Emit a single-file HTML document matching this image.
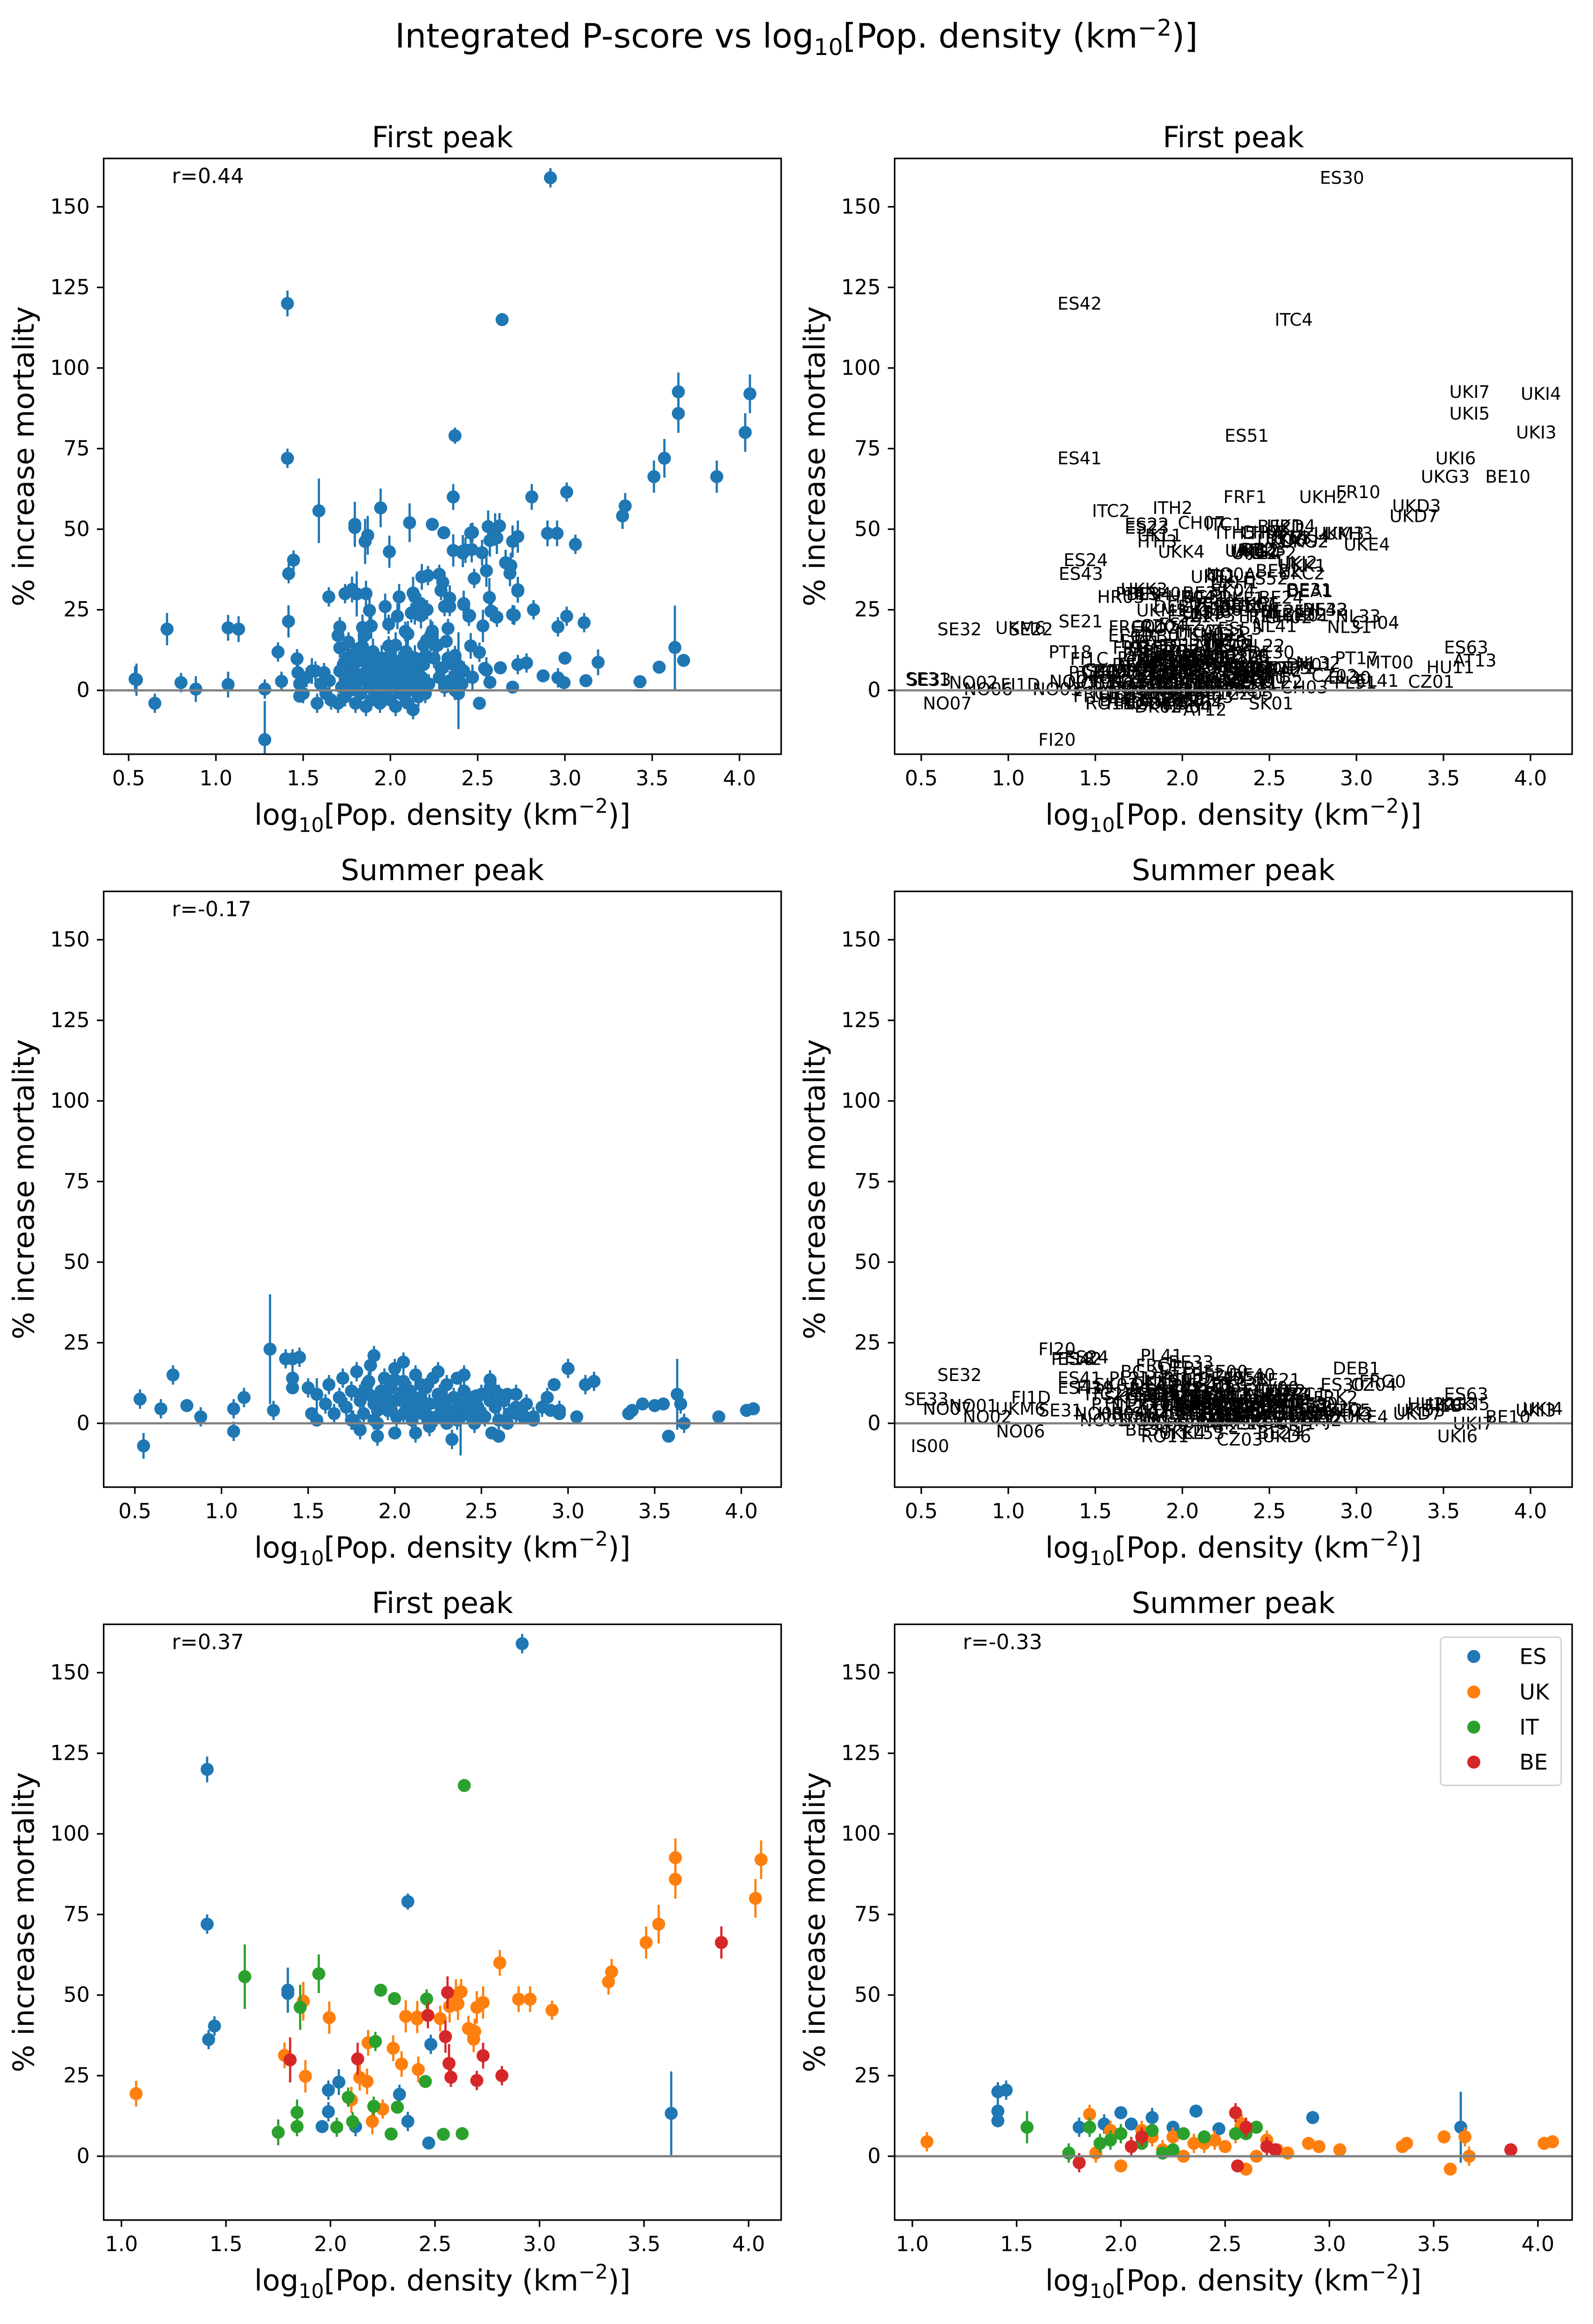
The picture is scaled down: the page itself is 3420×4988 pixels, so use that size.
<!DOCTYPE html>
<html><head><meta charset="utf-8"><title>Integrated P-score vs population density</title>
<style>html,body{margin:0;padding:0;background:#fff}svg{display:block}text{font-family:"DejaVu Sans","Liberation Sans",sans-serif;fill:#000}</style>
</head><body>
<svg id="fig" xmlns="http://www.w3.org/2000/svg" width="3420" height="4988" viewBox="0 0 1075.5 1568.5">
<rect x="0" y="0" width="1075.5" height="1568.5" fill="#fff"/>
<text x="537.7" y="32" font-size="22.7" text-anchor="middle">Integrated P-score vs log<tspan font-size="15.5" dy="5">10</tspan><tspan dy="-5">[Pop. density (km</tspan><tspan font-size="15.5" dy="-8">−2</tspan><tspan dy="8">)]</tspan></text>
</svg>
<script>
// ===== First peak: regions of the four highlighted countries =====
const fcX=[2.917,1.41,2.37,1.41,1.445,1.417,1.796,1.796,2.48,2.04,1.99,2.33,1.99,1.96,2.12,2.37,2.47,3.63,
1.07,1.78,1.87,1.994,1.88,2.10,2.14,2.175,2.18,2.20,2.25,2.30,2.34,2.36,2.415,2.415,2.42,2.525,2.57,2.60,2.625,2.61,2.66,2.69,2.685,2.70,2.73,2.81,2.90,2.955,3.06,3.33,3.345,3.51,3.57,3.65,3.65,4.033,4.06,
2.64,1.59,1.944,1.855,2.24,2.306,2.46,2.215,2.454,2.085,2.207,2.32,1.84,1.75,1.84,2.03,2.106,2.29,2.54,2.63,
2.56,2.466,2.55,1.807,2.13,2.567,2.73,2.576,2.70,2.82,3.87];
const fcY=[159,120,79,72,40.4,36.2,51.5,50.5,34.7,23,20.5,19.2,13.8,9.2,9.2,10.8,4.1,13.3,
19.4,31.3,48.1,43,24.8,17.5,24.4,23.2,35.2,10.8,14.6,33.5,28.6,43.4,43.2,42.6,26.9,42.7,46.5,49.9,51,47.3,39.6,38.7,36.3,46.2,47.7,60,48.7,48.7,45.3,54.1,57.2,66.3,72,92.6,85.9,80,92,
115,55.7,56.6,46.2,51.5,48.9,48.8,35.6,23.2,18.3,15.5,15.2,13.6,7.4,9.2,9,10.7,6.9,6.8,7,
50.8,43.7,37.1,29.9,30.2,28.8,31.2,24.5,23.5,25,66.3];
const fcE=[3,4,2.5,3,3,3,7,5,3,4,3,3,3,2,3,3,2,13,
4,4,6,5,5,4,4,4,4,4,3,4,4,5,5,4,4,4,5,5,4,5,4,4,4,5,5,4,4,4,3,4,4,5,6,6,6,6,6,
2,10,6,7,2,2,3,3,2,3,3,2,4,4,3,3,3,2,2,2,
5,4,5,7,5,6,4,3,3,3,5];
const fcLab=["ES30","ES42","ES51","ES41","ES24","ES43","ES22","ES23","ES52","ES21","ES12","ES53","ES11","ES13","ES62","ES70","ES61","ES63",
"UKM6","UKK3","UKL1","UKK4","UKM5","UKN0","UKM8","UKF3","UKE1","UKK2","UKL2","UKH1","UKF1","UKJ3","UKG1","UKE2","UKC1","UKF2","UKD6","UKJ1","UKD4","UKE3","UKJ2","UKK1","UKC2","UKG2","UKJ4","UKH2","UKM3","UKH3","UKE4","UKD7","UKD3","UKG3","UKI6","UKI7","UKI5","UKI3","UKI4",
"ITC4","ITC2","ITH2","ITH3","ITC1","ITH5","ITH4","ITI1","ITI4","ITC3","ITI2","ITF1","ITF5","ITG2","ITF2","ITF6","ITF4","ITI3","ITG1","ITF3",
"BE21","BE23","BE22","BE34","BE35","BE24","BE31","BE25","BE32","BE33","BE10"];
const fcCty=["ES","ES","ES","ES","ES","ES","ES","ES","ES","ES","ES","ES","ES","ES","ES","ES","ES","ES",
"UK","UK","UK","UK","UK","UK","UK","UK","UK","UK","UK","UK","UK","UK","UK","UK","UK","UK","UK","UK","UK","UK","UK","UK","UK","UK","UK","UK","UK","UK","UK","UK","UK","UK","UK","UK","UK","UK","UK",
"IT","IT","IT","IT","IT","IT","IT","IT","IT","IT","IT","IT","IT","IT","IT","IT","IT","IT","IT","IT",
"BE","BE","BE","BE","BE","BE","BE","BE","BE","BE","BE"];

// ===== First peak: all other regions =====
const foX=[0.537,0.545,0.65,0.72,0.80,0.885,1.13,1.07,1.28,1.28,1.356,1.376,1.416,1.465,1.47,1.48,1.48,1.647,
2.875,2.96,2.995,3.0,3.12,3.19,3.43,3.54,3.68,2.51,2.57,2.63,2.70,2.73,2.78,2.82,2.96,3.01,3.11,3.01,
2.46,2.51,2.53,2.47,2.55,2.45,2.42,2.58,2.61,2.71,2.73,2.36,2.11,1.86,1.71,1.71,1.85,2.24,2.19,2.26,2.37,2.38,2.41,2.39,
1.50,1.52,1.55,1.57,1.58,1.60,1.62,1.63,1.65,1.66,1.70,1.71,1.72,1.73,1.74,1.75,1.76,1.77,1.78,1.79,1.80,1.80,1.81,1.82,1.83,1.84,1.85,1.86,1.86,1.87,1.88,1.89,1.90,1.90,1.91,1.92,1.93,1.93,1.94,1.95,1.95,1.96,1.97,1.98,1.99,2.00,2.00,2.01,2.02,2.03,2.03,2.04,2.05,2.06,2.07,2.08,2.09,2.10,2.10,2.11,2.12,2.13,2.13,2.14,2.15,2.16,2.17,2.18,2.19,2.20,2.22,2.23,2.25,2.27,2.28,2.30,2.31,2.33,2.34,2.36,2.37,2.38,2.39,2.40,2.41,2.42,
1.70,1.76,1.84,1.97,2.05,2.12,2.14,2.17,2.21,1.74,1.89,2.29,2.31,2.34,2.28,2.43,2.47];
const foY=[3.5,3.3,-4,19,2.4,0.4,19,1.8,0.4,-15.3,11.9,2.8,21.4,9.8,5.5,2,-1.8,29,
4.5,3.9,2.4,10,3,8.7,2.7,7.2,9.3,-4,2.5,7,1,8,8.5,25,19.7,23,21,61.5,
13.8,11.8,20,4,6.3,23,26.6,24.5,22.7,23.3,30.8,60,52,30,19.7,13.2,16.9,18.4,14,14,10.5,7.2,6.3,3,
-1,4,6,6,-4,2,5.5,-1,3,-3,-4,6,1,8,-2,10,4,0,11,6,-4,2,9,13,-1,5,3,-5,10,7,1,-3,12,4,8,-1,2,6,-4,10,0,5,-2,8,3,11,-3,6,1,14,-5,4,9,-1,7,2,12,-4,5,0,8,-6,3,10,6,-2,1,4,8,-1,2,17,10,14,4,7,1,10,3,8,0,5,-1,7,2,6,
17,15,19.5,26,29,24,29,27,25,30,20,31,26,26,36,43.5,49];
const foE=[4,5,3,5,3,4,4,4,3,12,3,3,5,3,4,3,2,3,
2,3,2,2,2,4,2,2,2,2,2,2,2,3,3,3,3,3,3,3,
4,3,5,4,4,3,3,3,3,3,3,4,6,4,3,3,3,3,3,3,3,3,3,15,
3,3,4,3,3,3,3,3,3,3,3,4,3,3,3,4,3,3,4,3,3,3,4,5,3,3,3,3,4,3,3,3,4,3,3,3,3,3,3,4,3,3,3,3,3,4,3,3,3,4,3,3,3,3,3,3,4,3,3,3,3,3,3,4,3,3,3,3,3,3,3,5,3,4,3,3,3,3,3,3,3,3,3,3,3,3,
3,3,4,4,4,3,3,3,3,3,4,3,3,3,3,4,3];
const foLab=["SE31","SE33","NO07","SE32","NO02","NO06","SE22","FI1D","NO03","FI20","PT18","NO05","SE21","FI1C","PT16","NO04","FI19","HR03",
"CZ02","EL30","PL91","PT17","EL41","MT00","CZ01","HU11","AT13","SK01","PL22","DE71","CH03","DK01","NL32","NL42","NL31","NL33","CH04","FR10",
"NL22","DE30","NL41","LU00","DEA2","FRE1","CH06","NL21","CH02","CH01","DEA1","FRF1","CH07","FRH0","FRG0","FRI3","FRB0","AT31","AT22","DE12","CZ06","SK02","SI04","DE60"];

// ===== Summer peak: regions of the four highlighted countries =====
const scX=[1.41,1.41,1.41,1.45,1.8,1.85,1.92,2.0,2.05,2.15,2.25,2.36,2.47,2.92,3.63,
1.07,1.85,1.88,1.95,2.0,2.1,2.15,2.2,2.3,2.35,2.45,2.5,2.55,2.6,2.65,2.7,2.75,2.8,2.9,2.95,3.05,3.35,3.37,3.55,3.58,3.65,3.67,4.03,4.07,2.25,2.4,2.58,
1.55,1.75,1.85,1.9,1.95,2.0,2.1,2.15,2.2,2.25,2.3,2.4,2.55,2.6,2.65,
1.8,2.05,2.1,2.55,2.56,2.6,2.7,2.74,3.87];
const scY=[20,14,11,20.5,9,9,10,13.5,10,12,9,14,8.5,12,9,
4.5,13,1,8,-3,8,6,2,0,4,5,3,7,-4,0,5,2,1,4,3,2,3,4,6,-4,6,0,4,4.5,6,4,10,
9,1,9,4,5,7,4,8,1,2,7,6,7,7,9,
-2,3,6,13.5,-3,9,3,2,2];
const scE=[3,3,2,3,3,3,3,2,2,3,2,2,2,2,11,
3,3,3,3,2,3,3,3,2,3,3,2,3,2,2,3,2,2,2,2,2,2,2,2,2,3,3,2,2,3,3,3,
5,3,3,3,3,3,2,2,2,2,2,2,2,2,2,
3,3,3,3,2,3,3,2,2];
const scCty=["ES","ES","ES","ES","ES","ES","ES","ES","ES","ES","ES","ES","ES","ES","ES",
"UK","UK","UK","UK","UK","UK","UK","UK","UK","UK","UK","UK","UK","UK","UK","UK","UK","UK","UK","UK","UK","UK","UK","UK","UK","UK","UK","UK","UK","UK","UK","UK",
"IT","IT","IT","IT","IT","IT","IT","IT","IT","IT","IT","IT","IT","IT","IT",
"BE","BE","BE","BE","BE","BE","BE","BE","BE"];
const scLab=["ES42","ES41","ES43","ES24","ES22","ES23","ES21","ES12","ES11","ES13","ES62","ES51","ES61","ES30","ES63",
"UKM6","UKK3","UKL1","UKM5","UKK4","UKN0","UKM8","UKF3","UKE1","UKK2","UKH1","UKF1","UKG1","UKD6","UKJ1","UKE2","UKC1","UKJ2","UKH2","UKM3","UKE4","UKD7","UKD3","UKG3","UKI6","UKI5","UKI7","UKI3","UKI4","UKL2","UKJ3","UKF2",
"ITC2","ITG2","ITF5","ITH3","ITH2","ITF2","ITF6","ITC3","ITI2","ITI1","ITH5","ITH4","ITG1","ITC4","ITC1",
"BE34","BE35","BE32","BE21","BE24","BE23","BE31","BE25","BE10"];

// ===== Summer peak: all other regions =====
const soX=[0.53,0.55,0.65,0.72,0.8,0.88,1.07,1.13,1.28,1.3,1.37,1.5,1.52,1.55,
1.6,1.62,1.65,1.68,1.7,1.72,1.75,1.76,1.78,1.8,1.82,1.84,1.86,1.88,1.9,1.92,1.94,1.96,1.98,2.0,2.01,2.03,2.05,2.07,2.09,2.1,2.12,2.14,2.16,2.18,2.2,2.22,2.24,2.26,2.28,2.3,2.32,2.34,2.36,2.38,2.4,2.42,2.44,2.46,2.48,2.5,2.52,2.55,2.58,2.6,2.63,2.66,2.7,2.73,2.76,2.8,2.85,2.88,2.95,3.0,3.1,3.15,3.43,3.5,1.9,2.12,2.2,2.33,2.05,1.88,2.25,2.4,2.38];
const soY=[7.5,-7,4.5,15,5.5,2,-2.5,8,23,4,20,11,3,1,
6,12,3,8,14,5,10,1,16,7,3,12,18,6,0,9,14,4,11,17,2,8,13,5,10,1,15,7,3,11,6,14,2,9,5,12,3,8,1,6,10,3,7,0,5,9,2,11,5,1,7,3,9,4,6,2,5,8,4,17,12,13,6,5.5,-4,-3,-1,-5,19,21,16,15,2];
const soE=[3,4,3,3,2,3,3,3,17,3,3,3,2,2,
3,3,3,3,3,3,3,3,3,3,3,3,3,3,3,3,3,3,3,3,3,3,3,3,3,3,3,3,3,3,3,3,3,3,3,3,3,3,3,3,3,3,3,3,3,3,3,3,3,3,3,3,3,3,3,3,3,3,3,3,3,3,2,2,3,3,3,3,3,3,3,3,12];
const soLab=["SE33","IS00","NO07","SE32","NO01","NO02","NO06","FI1D","FI20","SE31","PT18","FI19","NO05","NO03"];

// generic region codes used for unnamed clustered points
const codes=["FRF2","DE11","NO0A","AT12","CH05","FRG0","PL21","CZ03","SI04","DK02","FRI1","SE12","HU22","NL22","BE33","DEA2","AT21","FRK2","PT11","FI1B","DE94","PL41","FRC1","DK03","CZ05","SK03","RO11","LV00","EE00","LT01","FRD2","DEB1","HR04","EL53","BG31","DE40","DE80","PT15","CZ04","SK04"];

// ===== geometry =====
const NS="http://www.w3.org/2000/svg";
const svg=document.getElementById("fig");
const W=457.4,H=402.1,YMIN=-19.8,YMAX=165;
const COL={ES:"#1f77b4",UK:"#ff7f0e",IT:"#2ca02c",BE:"#d62728"};
const BLUE="#1f77b4";
function mk(tag,attrs,parent){const e=document.createElementNS(NS,tag);for(const k in attrs)e.setAttribute(k,attrs[k]);(parent||svg).appendChild(e);return e;}

let clipN=0;
function panel(cfg){
  const g=mk("g",{});
  
  
  const L=cfg.left,T=cfg.top;
  const xs=v=>L+(v-cfg.xmin)/(cfg.xmax-cfg.xmin)*W;
  const ys=v=>T+(YMAX-v)/(YMAX-YMIN)*H;
  clipN++;
  const cp=mk("clipPath",{id:"cp"+clipN},g);
  mk("rect",{x:L,y:T,width:W,height:H},cp);
  const marks=mk("g",{"clip-path":"url(#cp"+clipN+")"},g);
  
  
  // points
  for(let i=0;i<cfg.X.length;i++){
    const x=xs(cfg.X[i]),y=ys(cfg.Y[i]);
    if(cfg.mode==="labels"){
      const t=mk("text",{x:x,y:y,"font-size":"11.8","text-anchor":"middle","dominant-baseline":"central"},marks);
      t.textContent=cfg.Lab[i];
      
      
    } else {
      const c=cfg.C?COL[cfg.C[i]]:BLUE;
      const eb=mk("line",{x1:x,x2:x,y1:ys(cfg.Y[i]-cfg.E[i]),y2:ys(cfg.Y[i]+cfg.E[i]),stroke:c,"stroke-width":"1.5"},marks);
      
      
      const p=mk("circle",{cx:x,cy:y,r:"4.4",fill:c},marks);
      
      
    }
  }
  // zero line
  const zl=mk("line",{x1:L,x2:L+W,y1:ys(0),y2:ys(0),stroke:"#808080","stroke-width":"1.5"},g);
  
  
  // frame
  const fr=mk("rect",{x:L,y:T,width:W,height:H,fill:"none",stroke:"#000","stroke-width":"1.05"},g);
  
  
  // y ticks
  const yt=[0,25,50,75,100,125,150];
  for(const v of yt){
    const y=ys(v);
    const tk=mk("line",{x1:L-4.6,x2:L,y1:y,y2:y,stroke:"#000","stroke-width":"1.05"},g);
    
    
    const tl=mk("text",{x:L-9.4,y:y,"font-size":"14","text-anchor":"end","dominant-baseline":"central"},g);
    tl.textContent=String(v);
    
    
  }
  // x ticks
  for(const v of cfg.xticks){
    const x=xs(v);
    const tk=mk("line",{x1:x,x2:x,y1:T+H,y2:T+H+4.6,stroke:"#000","stroke-width":"1.05"},g);
    
    
    const tl=mk("text",{x:x,y:T+H+21,"font-size":"14","text-anchor":"middle"},g);
    tl.textContent=v.toFixed(1);
    
    
  }
  // x label
  const xl=mk("text",{x:L+W/2,y:T+H+47.5,"font-size":"19.6","text-anchor":"middle"},g);
  xl.innerHTML='log<tspan font-size="13.5" dy="5">10</tspan><tspan dy="-5">[Pop. density (km</tspan><tspan font-size="13.5" dy="-8">−2</tspan><tspan dy="8">)]</tspan>';
  
  
  // y label
  const yl=mk("text",{x:0,y:0,"font-size":"19.6","text-anchor":"middle","dominant-baseline":"central",transform:"translate("+(L-54)+","+(T+H/2)+") rotate(-90)"},g);
  yl.textContent="% increase mortality";
  
  
  // title
  const tt=mk("text",{x:L+W/2,y:T-7.6,"font-size":"19.6","text-anchor":"middle"},g);
  tt.textContent=cfg.title;
  
  
  if(cfg.r){
    const rt=mk("text",{x:L+46,y:T+16.7,"font-size":"14"},g);
    rt.textContent=cfg.r;
    
    
  }
  return g;
}

// assemble combined arrays
const fAllX=fcX.concat(foX), fAllY=fcY.concat(foY), fAllE=fcE.concat(foE);
const fAllLab=fcLab.concat(foX.map((v,i)=>i<foLab.length?foLab[i]:codes[i%codes.length]));
const sAllX=scX.concat(soX), sAllY=scY.concat(soY), sAllE=scE.concat(soE);
const sAllLab=scLab.concat(soX.map((v,i)=>i<soLab.length?soLab[i]:codes[(i*7)%codes.length]));

const tk1=[0.5,1.0,1.5,2.0,2.5,3.0,3.5,4.0], tk3=[1.0,1.5,2.0,2.5,3.0,3.5,4.0];
const top1=106.9,top2=601.6,top3=1096.3,leftA=70,leftB=604;

panel({name:"first-peak-scatter",left:leftA,top:top1,xmin:0.357,xmax:4.239,xticks:tk1,title:"First peak",r:"r=0.44",mode:"points",X:fAllX,Y:fAllY,E:fAllE});
panel({name:"first-peak-labels",left:leftB,top:top1,xmin:0.347,xmax:4.239,xticks:tk1,title:"First peak",mode:"labels",X:fAllX,Y:fAllY,Lab:fAllLab});
panel({name:"summer-peak-scatter",left:leftA,top:top2,xmin:0.32,xmax:4.23,xticks:tk1,title:"Summer peak",r:"r=-0.17",mode:"points",X:sAllX,Y:sAllY,E:sAllE});
panel({name:"summer-peak-labels",left:leftB,top:top2,xmin:0.347,xmax:4.239,xticks:tk1,title:"Summer peak",mode:"labels",X:sAllX,Y:sAllY,Lab:sAllLab});
panel({name:"first-peak-by-country",left:leftA,top:top3,xmin:0.915,xmax:4.156,xticks:tk3,title:"First peak",r:"r=0.37",mode:"points",X:fcX,Y:fcY,E:fcE,C:fcCty});
panel({name:"summer-peak-by-country",left:leftB,top:top3,xmin:0.915,xmax:4.164,xticks:tk3,title:"Summer peak",r:"r=-0.33",mode:"points",X:scX,Y:scY,E:scE,C:scCty});

// legend
const lg=mk("g",{});


const lb=mk("rect",{x:972.6,y:1105,width:81.4,height:100,rx:"2.6",fill:"#fff","fill-opacity":"0.8",stroke:"#d6d6d6","stroke-width":"1.05"},lg);


const legNames=["ES","UK","IT","BE"];
const legY=[1118,1142,1165.7,1189.3];
legNames.forEach((n,i)=>{
  const c=mk("circle",{cx:995,cy:legY[i],r:"4.4",fill:COL[n]},lg);
  
  
  const t=mk("text",{x:1025.8,y:legY[i],"font-size":"14.5","dominant-baseline":"central"},lg);
  t.textContent=n;
  
  
});
</script>
</body></html>
